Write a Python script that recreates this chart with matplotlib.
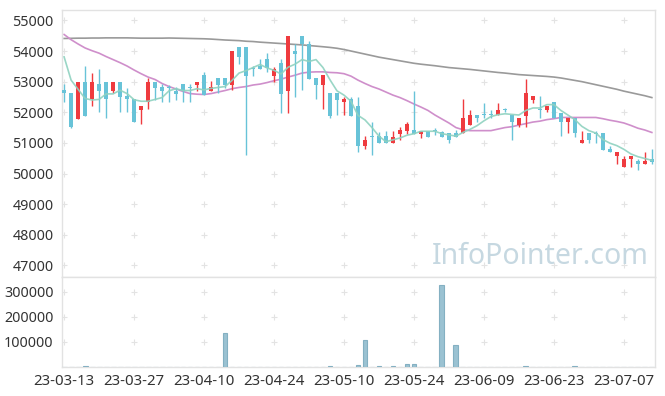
import numpy as np
import pandas as pd
import matplotlib
matplotlib.use("Agg")
import matplotlib.pyplot as plt

# ---------------- data ----------------
holidays = ["2023-05-01", "2023-05-05", "2023-05-29", "2023-06-06"]
dates = [d for d in pd.bdate_range("2023-03-13", "2023-07-13") if d.strftime("%Y-%m-%d") not in holidays]

opens = [52740, 52630, 51780, 53000, 52430, 52910, 53000, 52700, 53000, 52530,
         52430, 52070, 52320, 53000, 52830, 52810, 52700, 52920, 52800, 52880,
         53210, 52700, 53130, 53130, 52890, 54120, 54120, 53430, 53520, 53740,
         53190, 53600, 52700, 54000, 54500, 54220, 53130, 52890, 52620, 52620,
         52320, 52430, 52210, 50900, 51210, 51220, 51220, 51000, 51290, 51400,
         51420, 51290, 51400, 51410, 51360, 51310, 51310, 51310, 51600, 51910,
         51920, 51920, 51910, 52100, 51910, 51580, 51890, 52400, 52100, 52090,
         52320, 51990, 51690, 51800, 51000, 51310, 51320, 51310, 50800, 50580,
         50200, 50470, 50410, 50300, 50490]
highs = [52930, 52640, 53000, 53500, 53290, 53400, 53000, 53000, 53000, 52780,
         52430, 52200, 53120, 53000, 52910, 52880, 52830, 52920, 52910, 53000,
         53320, 53020, 53130, 53130, 54000, 54120, 54120, 53500, 53730, 53920,
         53480, 53740, 54500, 54220, 54500, 54330, 53130, 53210, 52620, 52620,
         52500, 52500, 52500, 51220, 51690, 51360, 51400, 51400, 51530, 51690,
         52700, 51400, 51400, 51480, 51400, 51310, 51420, 52420, 52090, 51910,
         52310, 52090, 52310, 52150, 51910, 51800, 53100, 52530, 52530, 52200,
         52320, 51990, 51800, 51800, 51400, 51310, 51400, 51310, 50900, 50690,
         50580, 50580, 50470, 50690, 50800]
lows = [52330, 51500, 51780, 51880, 52200, 52020, 51800, 52620, 52020, 52020,
        51680, 51610, 52100, 52400, 52320, 52320, 52400, 52320, 52320, 52700,
        52580, 52700, 52620, 52800, 52720, 53590, 50600, 53200, 53400, 53300,
        53000, 51990, 51990, 52500, 52720, 53090, 52430, 52100, 51800, 51910,
        51910, 51890, 50710, 50790, 50600, 51000, 51000, 51000, 51110, 51290,
        51290, 51150, 51200, 51260, 51200, 51000, 51200, 51310, 51600, 51690,
        51800, 51800, 51910, 52000, 51110, 51530, 51520, 52310, 51800, 52020,
        51800, 51220, 51310, 51200, 51000, 51000, 51000, 50760, 50690, 50300,
        50200, 50200, 50110, 50300, 50300]
closes = [52630, 51510, 53000, 51880, 53000, 52700, 52420, 53000, 52500, 52420,
          51690, 52200, 53000, 52800, 52690, 52790, 52590, 52700, 52780, 53000,
          52580, 52820, 52890, 52890, 54000, 53810, 53190, 53420, 53400, 53450,
          53410, 52590, 54500, 53900, 54220, 53090, 52890, 53210, 51890, 52400,
          52430, 51890, 50900, 51110, 51190, 51000, 51000, 51200, 51420, 51610,
          51290, 51400, 51200, 51390, 51200, 51110, 51200, 51800, 51910, 51800,
          51900, 51900, 52090, 52080, 51690, 51800, 52620, 52530, 52080, 52200,
          51800, 51690, 51800, 51310, 51110, 51090, 51300, 50760, 50690, 50690,
          50490, 50580, 50300, 50410, 50380]
volume = [0, 0, 0, 4000, 0, 0, 0, 0, 0, 0,
          0, 0, 0, 0, 0, 0, 0, 0, 0, 0,
          0, 0, 0, 134000, 0, 0, 0, 0, 0, 0,
          0, 0, 0, 0, 0, 0, 0, 0, 3000, 0,
          0, 0, 8000, 108000, 0, 3000, 0, 3000, 0, 12000,
          12000, 0, 0, 0, 328000, 0, 88000, 0, 0, 0,
          0, 0, 0, 0, 0, 0, 3000, 0, 0, 0,
          0, 0, 0, 3000, 0, 0, 0, 0, 0, 0,
          0, 0, 0, 0, 0]
ma5 = [53810, 53050, 52750, 52450, 52400, 52420, 52600, 52600, 52720, 52610,
       52410, 52360, 52360, 52420, 52480, 52700, 52770, 52710, 52710, 52770,
       52730, 52780, 52810, 52840, 53040, 53280, 53360, 53460, 53560, 53450,
       53370, 53250, 53470, 53570, 53720, 53660, 53720, 53460, 53060, 52700,
       52560, 52360, 51900, 51750, 51500, 51220, 51040, 51100, 51160, 51250,
       51300, 51380, 51380, 51380, 51300, 51260, 51220, 51340, 51440, 51560,
       51720, 51860, 51920, 51950, 51930, 51910, 52060, 52140, 52140, 52250,
       52250, 52060, 51910, 51760, 51540, 51400, 51320, 51110, 50990, 50910,
       50790, 50640, 50550, 50490, 50430]
ma20 = [54540, 54370, 54230, 54100, 54010, 53930, 53820, 53720, 53620, 53510,
        53380, 53260, 53150, 53070, 52940, 52840, 52760, 52680, 52610, 52590,
        52580, 52610, 52660, 52710, 52770, 52810, 52840, 52890, 52920, 52970,
        53030, 53080, 53150, 53210, 53280, 53310, 53320, 53320, 53300, 53290,
        53260, 53180, 53050, 52940, 52840, 52760, 52660, 52560, 52480, 52380,
        52270, 52170, 52060, 51910, 51780, 51650, 51500, 51430, 51400, 51400,
        51400, 51400, 51450, 51500, 51530, 51580, 51630, 51680, 51710, 51760,
        51790, 51830, 51830, 51830, 51830, 51830, 51830, 51790, 51740, 51700,
        51650, 51570, 51480, 51420, 51340]
ma60 = [54410, 54415, 54420, 54420, 54425, 54425, 54430, 54430, 54430, 54430,
        54425, 54420, 54420, 54420, 54420, 54425, 54420, 54415, 54410, 54405,
        54400, 54390, 54375, 54360, 54350, 54340, 54320, 54310, 54290, 54275,
        54260, 54245, 54230, 54215, 54200, 54180, 54160, 54140, 54118, 54090,
        54050, 54000, 53950, 53900, 53850, 53800, 53760, 53720, 53680, 53640,
        53600, 53570, 53545, 53520, 53490, 53460, 53440, 53420, 53400, 53375,
        53350, 53325, 53300, 53280, 53255, 53230, 53215, 53200, 53185, 53170,
        53150, 53120, 53080, 53040, 53000, 52950, 52900, 52850, 52800, 52750,
        52690, 52640, 52590, 52540, 52480]
price_ticks = [47000, 48000, 49000, 50000, 51000, 52000, 53000, 54000, 55000]
vol_ticks = [100000, 200000, 300000]

# ---------------- style ----------------
UP = "#ef3b3f"
DOWN = "#68c3d8"
GRID = "#e3e3e3"
SPINE = "#e2e2e2"
TXT = "#333333"
plt.rcParams["font.family"] = ["Noto Sans", "DejaVu Sans"]

W, H = 665, 396
fig = plt.figure(figsize=(W / 100, H / 100), dpi=100)
L, R = 62, 655
ax = fig.add_axes([L / W, 1 - 277 / H, (R - L) / W, (277 - 10) / H])
axv = fig.add_axes([L / W, 1 - 367 / H, (R - L) / W, (367 - 277) / H])

x = np.arange(len(closes))
o = np.array(opens); c = np.array(closes); h = np.array(highs); l = np.array(lows)
up = c >= o
cols = np.where(up, UP, DOWN)
bottoms = np.minimum(o, c)
heights = np.maximum(np.abs(c - o), 30)

ax.vlines(x, l, h, colors=cols, linewidth=1.0, zorder=3)
ax.bar(x, heights, bottom=bottoms, width=0.66, color=cols, linewidth=0, zorder=4)

ax.plot(x, ma60, color="#9a9a9a", lw=1.2, zorder=2)
ax.plot(x, ma20, color="#cf8fcb", lw=1.2, zorder=2)
ax.plot(x, ma5, color="#8fd2c0", lw=1.2, zorder=5, alpha=0.9)

xlim = (-0.3, 84.45)
tick_pos = list(range(0, len(dates), 10))
tick_lab = [dates[i].strftime("%y-%m-%d") for i in tick_pos]

ax.set_xlim(*xlim)
ax.set_ylim(46620, 55340)
ax.set_yticks(price_ticks)
ax.set_yticklabels([str(v) for v in price_ticks])
ax.set_xticks(tick_pos)
ax.set_xticklabels([])
gx, gy = np.meshgrid(tick_pos, price_ticks)
ax.plot(gx.ravel(), gy.ravel(), linestyle="none", marker="+", ms=4, mew=0.8,
        color=GRID, zorder=0)

ax.text(0.806, 0.078, "InfoPointer.com", transform=ax.transAxes, ha="center",
        va="center", fontsize=20.5, color="#c6d8e1", zorder=1)

axv.bar(x, volume, width=0.7, color="#9bc2d2", edgecolor="#84b0c2", linewidth=0.8, zorder=3)
axv.set_xlim(*xlim)
axv.set_ylim(0, 359000)
axv.set_yticks(vol_ticks)
axv.set_yticklabels([str(v) for v in vol_ticks])
axv.set_xticks(tick_pos)
axv.set_xticklabels(tick_lab)
gx, gy = np.meshgrid(tick_pos, vol_ticks)
axv.plot(gx.ravel(), gy.ravel(), linestyle="none", marker="+", ms=4, mew=0.8,
         color=GRID, zorder=0)

for a in (ax, axv):
    for s in a.spines.values():
        s.set_color(SPINE)
        s.set_linewidth(1.0)
    a.tick_params(axis="both", length=0, labelsize=10.3, colors=TXT, pad=6)
    a.set_facecolor("white")
axv.tick_params(axis="x", pad=5, labelsize=10.8)

fig.savefig("out.png", dpi=100, facecolor="white")
